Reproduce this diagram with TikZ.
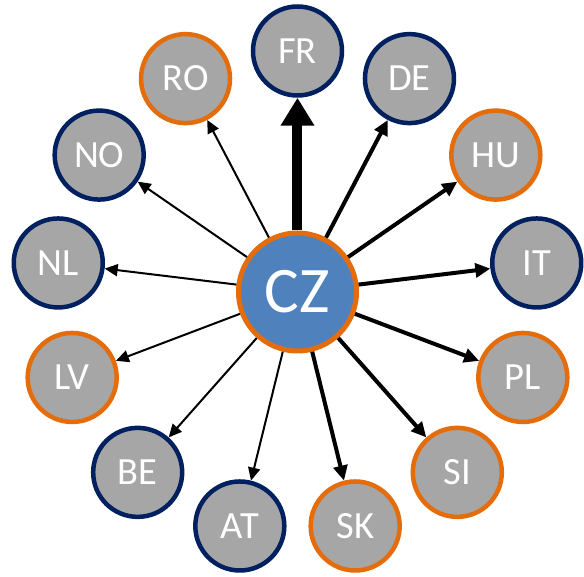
\documentclass[tikz,border=0pt]{standalone}
\usepackage{fontspec}
\setmainfont{Carlito}
\usetikzlibrary{arrows.meta}
\definecolor{nodegray}{HTML}{A6A6A6}
\definecolor{darkblue}{HTML}{002060}
\definecolor{czorange}{HTML}{E46C0A}
\definecolor{czblue}{HTML}{4F81BD}

\begin{document}
\begin{tikzpicture}[x=1pt,y=1pt]
\tikzstyle{country}=[circle,fill=nodegray,line width=4.5pt,minimum size=89pt,inner sep=0pt,text=white,font=\fontsize{38.5}{38.5}\selectfont]
\tikzstyle{bluering}=[country,draw=darkblue]
\tikzstyle{orangering}=[country,draw=czorange]
\tikzstyle{thin}=[line width=2pt,-{Triangle[length=13pt,width=12pt]}]
\tikzstyle{mid}=[line width=4pt,-{Triangle[length=15pt,width=14pt]}]
\tikzstyle{heavy}=[line width=10pt,-{Triangle[length=28pt,width=32pt]}]
\useasboundingbox (-297.5,-285) rectangle (286.5,292);

\node[circle,fill=czblue,draw=czorange,line width=5pt,minimum size=118pt,inner sep=0pt,text=white,font=\fontsize{65}{65}\selectfont] (CZ) at (0,0) {CZ};

\node[bluering]   (FR) at (90:241pt)     {FR};
\node[bluering]   (DE) at (62.31:241pt)  {DE};
\node[orangering] (HU) at (34.62:241pt)  {HU};
\node[bluering]   (IT) at (6.92:241pt)   {IT};
\node[orangering] (PL) at (-20.77:241pt) {PL};
\node[orangering] (SI) at (-48.46:241pt) {SI};
\node[orangering] (SK) at (-76.15:241pt) {SK};
\node[bluering]   (AT) at (-103.85:241pt) {AT};
\node[bluering]   (BE) at (-131.54:241pt) {BE};
\node[orangering] (LV) at (-159.23:241pt) {LV};
\node[bluering]   (NL) at (173.08:241pt) {NL};
\node[bluering]   (NO) at (145.38:241pt) {NO};
\node[orangering] (RO) at (117.69:241pt) {RO};

\draw[heavy] (CZ) -- (FR);
\draw[mid] (CZ) -- (DE);
\draw[mid] (CZ) -- (HU);
\draw[mid] (CZ) -- (IT);
\draw[mid] (CZ) -- (PL);
\draw[mid] (CZ) -- (SI);
\draw[mid] (CZ) -- (SK);
\draw[thin] (CZ) -- (AT);
\draw[thin] (CZ) -- (BE);
\draw[thin] (CZ) -- (LV);
\draw[thin] (CZ) -- (NL);
\draw[thin] (CZ) -- (NO);
\draw[thin] (CZ) -- (RO);
\end{tikzpicture}
\end{document}
